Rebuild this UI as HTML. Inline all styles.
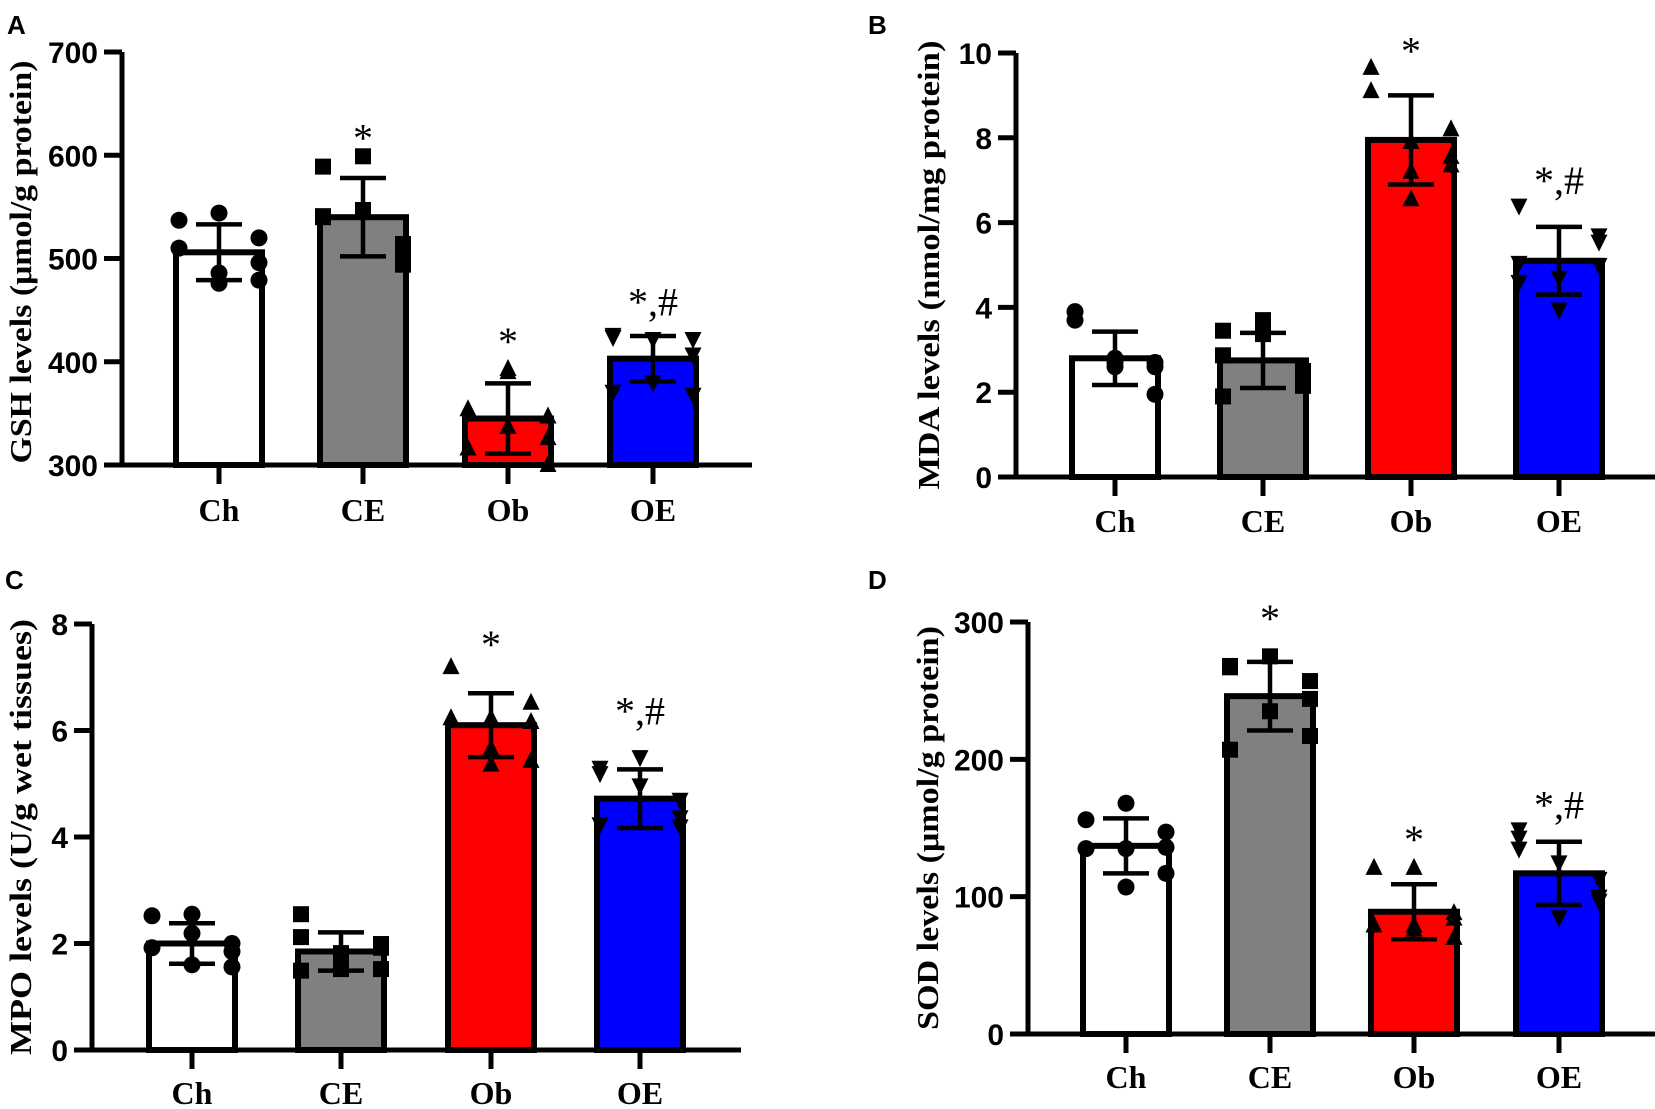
<!DOCTYPE html>
<html><head><meta charset="utf-8"><style>
html,body{margin:0;padding:0;background:#fff;}
svg{display:block;}
.tick{font-family:"Liberation Sans",sans-serif;font-weight:bold;font-size:30px;}
.cat{font-family:"Liberation Serif",serif;font-weight:bold;font-size:32px;}
.ttl{font-family:"Liberation Serif",serif;font-weight:bold;font-size:31px;}
.let{font-family:"Liberation Sans",sans-serif;font-weight:bold;font-size:26px;}
.ann{font-family:"Liberation Serif",serif;font-size:40px;}
</style></head><body>
<svg id="fig" width="1655" height="1109" viewBox="0 0 1655 1109" xmlns="http://www.w3.org/2000/svg"></svg>
<script>
// ---- data ----
const categories = ["Ch","CE","Ob","OE"];
const gshMeans = [506, 540, 345, 403];
const gshSD = [27, 38, 34, 22];
const gshPoints = [[537,510,476,544,486,520,496,479],[541,494,589,547,514,599,540,503],[354,316,390,337,393,347,326,300],[424,422,371,422,407,380,426,368]];
const gshAnn = ["", "*", "*", "*,#"];
const gshAnnY = [0, 621, 424, 462];
const gshTicks = [300,400,500,600,700];

const mdaMeans = [2.8, 2.75, 7.95, 5.1];
const mdaSD = [0.63, 0.65, 1.05, 0.8];
const mdaPoints = [[3.9,3.7,2.8,2.7,2.6,2.6,2.7,1.95],[3.45,2.5,1.9,3.7,2.3,3.37,2.87,2.15],[9.65,9.1,7.9,7.2,6.55,8.2,7.55,7.35],[6.4,5.55,4.6,3.95,5.7,4.7,5.05,5.0]];
const mdaAnn = ["", "", "*", "*,#"];
const mdaAnnY = [0, 0, 10.15, 7.1];
const mdaTicks = [0,2,4,6,8,10];

const mpoMeans = [2.0, 1.85, 6.1, 4.72];
const mpoSD = [0.38, 0.36, 0.6, 0.55];
const mpoPoints = [[2.52,1.92,1.6,2.55,2.19,1.56,1.85,2.0],[2.55,1.92,1.49,1.82,1.99,1.52,2.12,1.52],[7.19,6.23,5.66,6.23,5.36,6.52,6.16,5.43],[5.2,4.2,5.3,4.97,4.37,5.5,4.24,4.7]];
const mpoAnn = ["", "", "*", "*,#"];
const mpoAnnY = [0, 0, 7.7, 6.45];
const mpoTicks = [0,2,4,6,8];

const sodMeans = [137, 246, 89, 117];
const sodSD = [20, 25, 20, 23];
const sodPoints = [[156,135,107,168,135,147,136,117],[268,244,207,275,257,235,267,217],[121,79,121,76,79,84,70,88],[149,113,143,125,100,85,135,97]];
const sodAnn = ["", "*", "*", "*,#"];
const sodAnnY = [0, 306, 145, 170];
const sodTicks = [0,100,200,300];

// ---- drawing ----
const NS = "http://www.w3.org/2000/svg";
const svg = document.getElementById("fig");
const fills = ["#ffffff","#808080","#ff0000","#0000ff"];
const jitter = [-1,-1,0,0,0,1,1,1];
const jitterAlt = [-1,1,-1,0,1,0,-1,1];

function mk(tag, attrs, parent){
  const e = document.createElementNS(NS, tag);
  for (const k in attrs) e.setAttribute(k, attrs[k]);
  (parent||svg).appendChild(e);
  return e;
}

function drawPanel(p){
  const g = mk("g", {});
  
  
  const y = v => p.y0 + (v - p.vmin) / (p.vmax - p.vmin) * (p.y1 - p.y0);
  const L = mk("text", {x:p.letX, y:p.letY, class:"let"}, g); L.textContent = p.letter;
  
  
  const T = mk("text", {x:0, y:0, class:"ttl", "text-anchor":"middle", transform:`translate(${p.titleX},${p.titleY}) rotate(-90)`, textLength:p.titleLen, lengthAdjust:"spacingAndGlyphs"}, g);
  T.textContent = p.title;
  
  
  p.means.forEach((m,i)=>{
    const cx = p.cx[i];
    const r = mk("rect", {x:cx-43, y:y(m), width:86, height:y(p.vmin)-y(m), fill:fills[i], stroke:"#000", "stroke-width":6}, g);
    
    
  });
  p.points.forEach((arr,i)=>{
    const cx = p.cx[i];
    arr.forEach((v,j)=>{
      const px = cx + (i%2 ? jitterAlt[j] : jitter[j]) * 40, py = y(v);
      let e;
      if (i===0) e = mk("circle", {cx:px, cy:py, r:8.5, fill:"#000"}, g);
      else if (i===1) e = mk("rect", {x:px-8, y:py-8, width:16, height:16, fill:"#000"}, g);
      else if (i===2) e = mk("polygon", {points:`${px},${py-10} ${px-8.5},${py+7} ${px+8.5},${py+7}`, fill:"#000"}, g);
      else e = mk("polygon", {points:`${px},${py+10} ${px-8.5},${py-7} ${px+8.5},${py-7}`, fill:"#000"}, g);
      
      
    });
  });
  p.means.forEach((m,i)=>{
    const cx = p.cx[i], hi = y(m + p.sd[i]), lo = y(m - p.sd[i]);
    const eb = mk("path", {d:`M${cx},${hi}V${lo}M${cx-23},${hi}H${cx+23}M${cx-23},${lo}H${cx+23}`, stroke:"#000", "stroke-width":4.5, fill:"none"}, g);
    
    
  });
  p.ann.forEach((a,i)=>{
    if (!a) return;
    const t = mk("text", {x:p.cx[i], y:y(p.annY[i]) + 18, class:"ann", "text-anchor":"middle"}, g);
    t.textContent = a;
    
    
  });
  const yb = y(p.vmin);
  const ax = mk("path", {d:`M${p.ax},${y(p.vmax)}V${yb}M${p.ax-18},${yb}H${p.xend}`, stroke:"#000", "stroke-width":5, fill:"none"}, g);
  
  
  p.ticks.forEach(t=>{
    const tk = mk("line", {x1:p.ax-18, x2:p.ax, y1:y(t), y2:y(t), stroke:"#000", "stroke-width":5}, g);
    
    
    const tl = mk("text", {x:p.ax-24, y:y(t)+11, class:"tick", "text-anchor":"end"}, g);
    tl.textContent = t;
    
    
  });
  categories.forEach((c,i)=>{
    const tk = mk("line", {x1:p.cx[i], x2:p.cx[i], y1:yb, y2:yb+19, stroke:"#000", "stroke-width":5}, g);
    
    
    const tl = mk("text", {x:p.cx[i], y:p.catY, class:"cat", "text-anchor":"middle"}, g);
    tl.textContent = c;
    
    
  });
}

drawPanel({name:"panel-a-gsh", letter:"A", letX:7, letY:34, title:"GSH levels (μmol/g protein)", titleX:31, titleY:262, titleLen:403,
  ax:122, xend:752, y0:465, y1:52, vmin:300, vmax:700, cx:[219,363,508,653], catY:521,
  means:gshMeans, sd:gshSD, points:gshPoints, ann:gshAnn, annY:gshAnnY, ticks:gshTicks});
drawPanel({name:"panel-b-mda", letter:"B", letX:868, letY:34, title:"MDA levels (nmol/mg protein)", titleX:939, titleY:265, titleLen:449,
  ax:1016, xend:1655, y0:477, y1:53, vmin:0, vmax:10, cx:[1115,1263,1411,1559], catY:532,
  means:mdaMeans, sd:mdaSD, points:mdaPoints, ann:mdaAnn, annY:mdaAnnY, ticks:mdaTicks});
drawPanel({name:"panel-c-mpo", letter:"C", letX:5, letY:589, title:"MPO levels (U/g wet tissues)", titleX:31, titleY:837, titleLen:436,
  ax:92, xend:741, y0:1050, y1:624, vmin:0, vmax:8, cx:[192,341,491,640], catY:1104,
  means:mpoMeans, sd:mpoSD, points:mpoPoints, ann:mpoAnn, annY:mpoAnnY, ticks:mpoTicks});
drawPanel({name:"panel-d-sod", letter:"D", letX:868, letY:589, title:"SOD levels (μmol/g protein)", titleX:938, titleY:828, titleLen:404,
  ax:1028, xend:1655, y0:1034, y1:622, vmin:0, vmax:300, cx:[1126,1270,1414,1559], catY:1088,
  means:sodMeans, sd:sodSD, points:sodPoints, ann:sodAnn, annY:sodAnnY, ticks:sodTicks});
</script>
</body></html>
